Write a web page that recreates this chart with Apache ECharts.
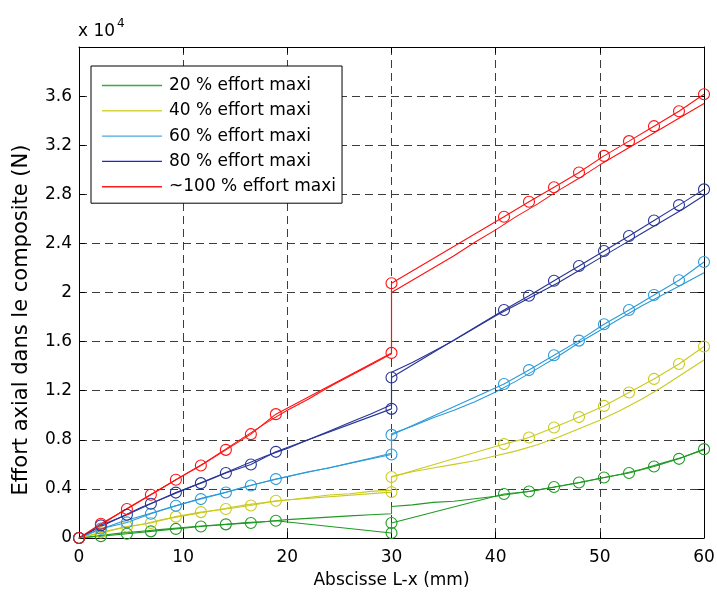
<!DOCTYPE html>
<html>
<head>
<meta charset="utf-8">
<script src="https://cdn.jsdelivr.net/npm/echarts@6/dist/echarts.min.js"></script>
<style>html,body{margin:0;padding:0;background:#fff}#c{width:717px;height:594px}</style>
</head>
<body>
<div id="c"></div>
<script>
// x positions (mm)
const xModel = [0,2,4,6,8,10,12,14,16,18,20,22,24,26,28,30,30,32,34,36,38,40,42,44,46,48,50,52,54,56,58,60];
const xMeas = [0,2.1,4.6,6.9,9.3,11.7,14.1,16.5,18.9,30,30,40.8,43.2,45.6,48,50.4,52.8,55.2,57.6,60];

// model curves (x 10^4 N)
const model20  = [0,0.02,0.04,0.055,0.07,0.085,0.10,0.11,0.125,0.135,0.15,0.16,0.17,0.18,0.19,0.197,0.257,0.27,0.29,0.30,0.32,0.34,0.365,0.39,0.42,0.45,0.485,0.52,0.56,0.61,0.66,0.72];
const model40  = [0,0.04,0.08,0.11,0.15,0.18,0.21,0.24,0.27,0.29,0.31,0.33,0.35,0.36,0.38,0.39,0.50,0.54,0.57,0.60,0.63,0.67,0.71,0.76,0.82,0.89,0.96,1.04,1.13,1.23,1.34,1.45];
const model60  = [0,0.07,0.13,0.18,0.23,0.28,0.33,0.37,0.42,0.46,0.50,0.54,0.57,0.61,0.65,0.69,0.85,0.91,0.98,1.04,1.11,1.19,1.28,1.38,1.48,1.59,1.69,1.79,1.89,1.98,2.07,2.16];
const model80  = [0,0.09,0.17,0.25,0.32,0.39,0.46,0.53,0.60,0.67,0.73,0.80,0.87,0.94,1.01,1.085,1.35,1.43,1.52,1.61,1.71,1.81,1.90,1.99,2.08,2.18,2.28,2.38,2.48,2.58,2.68,2.79];
const model100 = [0,0.10,0.21,0.31,0.41,0.51,0.61,0.72,0.83,0.94,1.04,1.13,1.23,1.32,1.41,1.50,2.00,2.10,2.20,2.30,2.41,2.51,2.62,2.72,2.83,2.93,3.04,3.14,3.24,3.34,3.44,3.54];

// measured points (x 10^4 N)
const meas20  = [0,0.015,0.035,0.054,0.074,0.094,0.111,0.122,0.141,0.041,0.122,0.358,0.379,0.415,0.452,0.493,0.529,0.583,0.645,0.724];
const meas40  = [0,0.046,0.094,0.122,0.174,0.211,0.236,0.265,0.303,0.374,0.497,0.765,0.819,0.900,0.985,1.076,1.185,1.296,1.418,1.560];
const meas60  = [0,0.076,0.127,0.198,0.263,0.317,0.371,0.428,0.480,0.680,0.840,1.255,1.368,1.489,1.608,1.741,1.858,1.980,2.100,2.248];
const meas80  = [0,0.103,0.190,0.279,0.370,0.447,0.529,0.599,0.702,1.052,1.307,1.858,1.974,2.096,2.216,2.338,2.460,2.587,2.712,2.840];
const meas100 = [0,0.116,0.236,0.352,0.474,0.591,0.718,0.846,1.009,1.508,2.075,2.617,2.739,2.858,2.978,3.113,3.233,3.355,3.477,3.615];

const names = ['20 % effort maxi','40 % effort maxi','60 % effort maxi','80 % effort maxi','~100 % effort maxi'];
const colors = ['#1F9A23','#CACA1E','#2A9AD8','#283496','#FF1010'];
const legendColors = ['#3DAA3D','#D4D440','#4AAAE0','#2222DD','#FF1A1A'];
const models = [model20, model40, model60, model80, model100];
const meas = [meas20, meas40, meas60, meas80, meas100];

const FONT = 'DejaVu Sans';
const pair = (xs, ys) => xs.map((x, i) => [x, ys[i]]);

const series = [];
models.forEach((m, i) => {
  series.push({
    name: names[i], type: 'line', data: pair(xModel, m), symbol: 'none',
    lineStyle: { color: colors[i], width: 1.1 }, itemStyle: { color: legendColors[i] },
    z: 2
  });
});
meas.forEach((m, i) => {
  series.push({
    name: names[i] + ' mes', type: 'line', data: pair(xMeas, m),
    symbol: 'circle', symbolSize: 11, showSymbol: true,
    lineStyle: { color: colors[i], width: 1.1 },
    itemStyle: { color: 'rgba(0,0,0,0)', borderColor: colors[i], borderWidth: 1.1 },
    z: 3
  });
});

const gridDash = { color: '#3c3c3c', width: 1, type: [8, 5] };
const chart = echarts.init(document.getElementById('c'), null, { renderer: 'canvas' });
chart.setOption({
  animation: false,
  backgroundColor: '#fff',
  textStyle: { fontFamily: FONT },
  grid: { left: 79, right: 13, top: 47, bottom: 56, show: false, outerBoundsMode: 'none', containLabel: false },
  legend: {
    data: names, orient: 'vertical', left: 91, top: 66,
    icon: 'path://M0,0 L60,0 L60,1.4 L0,1.4 Z',
    itemWidth: 60, itemHeight: 14, itemGap: 8.3,
    padding: [11, 6, 8, 11],
    backgroundColor: '#fff', borderColor: '#000', borderWidth: 1, borderRadius: 0,
    textStyle: { fontFamily: FONT, fontSize: 17, color: '#000', padding: [0, 0, 0, 2] },
    selectedMode: false
  },
  xAxis: [{
    type: 'value', min: 0, max: 60, interval: 10,
    name: 'Abscisse L-x (mm)', nameLocation: 'middle', nameGap: 34,
    nameTextStyle: { fontFamily: FONT, fontSize: 17, color: '#000' },
    axisLine: { show: true, lineStyle: { color: '#000', width: 1 } },
    axisTick: { show: true, inside: true, length: 6, lineStyle: { color: '#000' } },
    axisLabel: { fontFamily: FONT, fontSize: 17, color: '#000', margin: 11 },
    splitLine: { show: true, lineStyle: gridDash }
  }, {
    type: 'value', position: 'top', min: 0, max: 60, interval: 10,
    axisLine: { show: true, onZero: false, lineStyle: { color: '#000', width: 1 } },
    axisTick: { show: true, inside: true, length: 6, lineStyle: { color: '#000' } },
    axisLabel: { show: false }, splitLine: { show: false }
  }],
  yAxis: [{
    type: 'value', min: 0, max: 4, interval: 0.4,
    axisLine: { show: true, lineStyle: { color: '#000', width: 1 } },
    axisTick: { show: true, inside: true, length: 6, lineStyle: { color: '#000' } },
    axisLabel: { fontFamily: FONT, fontSize: 17, color: '#000', margin: 7, showMaxLabel: false },
    splitLine: { show: true, lineStyle: gridDash }
  }, {
    type: 'value', position: 'right', min: 0, max: 4, interval: 0.4,
    axisLine: { show: true, onZero: false, lineStyle: { color: '#000', width: 1 } },
    axisTick: { show: true, inside: true, length: 6, lineStyle: { color: '#000' } },
    axisLabel: { show: false }, splitLine: { show: false }
  }],
  graphic: [{
    type: 'text', left: 78, top: 18,
    style: {
      text: '{a|x 10}{s|4}',
      rich: {
        a: { fontFamily: FONT, fontSize: 17, fill: '#000', verticalAlign: 'bottom', lineHeight: 22 },
        s: { fontFamily: FONT, fontSize: 12, fill: '#000', verticalAlign: 'top', padding: [0, 0, 10, 2], lineHeight: 22 }
      }
    }
  }, {
    type: 'text', x: 22, y: 320, rotation: Math.PI / 2,
    style: {
      text: 'Effort axial dans le composite (N)', fontFamily: FONT, fontSize: 21,
      fill: '#000', align: 'center', verticalAlign: 'middle'
    }
  }],
  series: series
});
</script>
</body>
</html>
